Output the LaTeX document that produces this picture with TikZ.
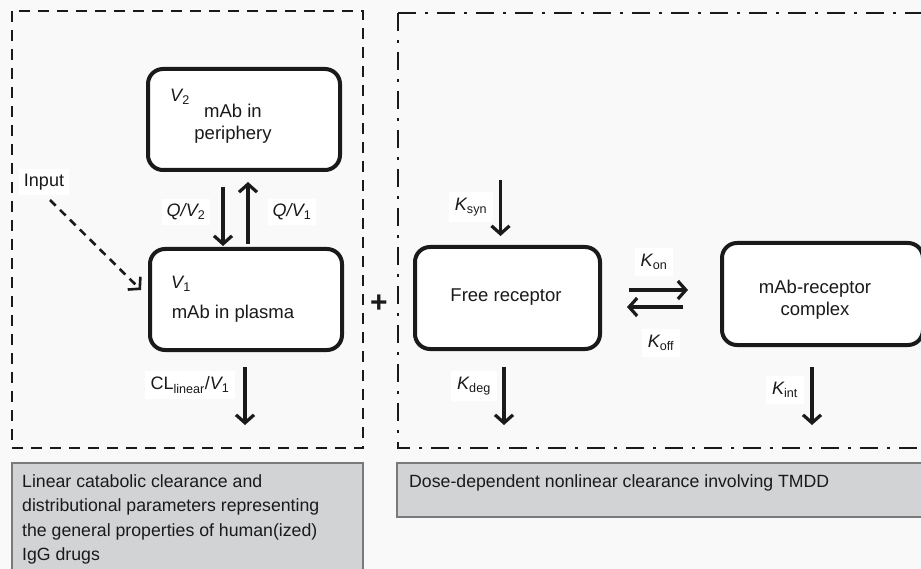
\documentclass[tikz,border=0pt]{standalone}
\usepackage{fontspec}
\setmainfont{Liberation Sans}
\usetikzlibrary{arrows.meta,calc}
\definecolor{bgc}{HTML}{F9F9F9}
\definecolor{capfill}{HTML}{D1D3D4}
\definecolor{capline}{HTML}{7A7A7A}
\definecolor{ink}{HTML}{1A1A1A}
\begin{document}
\begin{tikzpicture}[x=1pt,y=-1pt,
  comp/.style={draw=ink,line width=4pt,rounded corners=15pt,fill=white,inner sep=0pt},
  flow/.style={draw=ink,line width=3.2pt,-{Straight Barb[length=8pt,width=18pt]}},
  lbl/.style={fill=white,inner sep=3pt,text=ink,font=\fontsize{18}{20}\selectfont},
  txt/.style={fill=white,inner sep=3pt,align=center,text=ink,font=\fontsize{18.5}{22}\selectfont},
  capbox/.style={draw=capline,line width=1.2pt,fill=capfill},
  captxt/.style={anchor=north west,align=left,inner sep=0pt,text=ink,font=\fontsize{17.7}{24.5}\selectfont}]
\useasboundingbox (0,0) rectangle (921,569);
\fill[bgc] (0,0) rectangle (921,569);
% group frames
\draw[ink,line width=2.6pt,dash pattern=on 11pt off 8pt] (12,11) rectangle (363,448);
\draw[ink,line width=2.6pt,dash pattern=on 18pt off 9pt on 3pt off 9pt] (398,13) -- (398,448) -- (935,448);
\draw[ink,line width=2.6pt,dash pattern=on 18pt off 9pt on 3pt off 9pt] (398,13) -- (935,13);
% compartments
\node[comp,minimum width=192pt,minimum height=101pt] (v2) at (244,119.5) {};
\node[comp,minimum width=192pt,minimum height=101pt] (v1) at (246,299.5) {};
\node[comp,minimum width=185pt,minimum height=102pt] (fr) at (507.5,298) {};
\node[comp,minimum width=201pt,minimum height=102pt] (cx) at (822.5,294) {};
% texts in compartments
\node[txt] (v2t) at (233,124) {mAb in\\periphery};
\node[lbl,fill=none] (v2l) at (180,97) {\itshape V\textsubscript{\upshape 2}};
\node[lbl,fill=none] (v1l) at (181,284) {\itshape V\textsubscript{\upshape 1}};
\node[txt] (v1t) at (233,314) {mAb in plasma};
\node[txt] (frt) at (506,297) {Free receptor};
\node[txt] (cxt) at (815,300) {mAb-receptor\\complex};
% free ends
\coordinate (inS) at (50,200);
\coordinate (clE) at (245,425);
\coordinate (synS) at (500.5,180);
\coordinate (degE) at (504,425);
\coordinate (intE) at (812,425);
% connectors
\draw[flow] ($(v2.south)+(-21,15)$) -- ($(v1.north)+(-23,-1)$);
\draw[flow] ($(v1.north)+(2,-3)$) -- ($(v2.south)+(4,10)$);
\draw[flow,line width=2.6pt,dash pattern=on 8pt off 6pt] (inS) -- ($(v1.west)+(-7,-9.5)$);
\draw[flow] ($(v1.south)+(-1,15)$) -- (clE);
\draw[flow] (synS) -- ($(fr.north)+(-7,-9)$);
\draw[flow] ($(fr.south)+(-3.5,16)$) -- (degE);
\draw[flow] ($(fr.east)+(27,-8)$) -- ($(cx.west)+(-32,-4)$);
\draw[flow] ($(cx.west)+(-37,13)$) -- ($(fr.east)+(25,9)$);
\draw[flow] ($(cx.south)+(-10.5,20)$) -- (intE);
% rate labels
\node[lbl,inner sep=5pt] (inl) at (44,182) {Input};
\node[lbl,inner sep=5pt] (q2) at (186,212) {\itshape Q/V\textsubscript{\upshape 2}};
\node[lbl,inner sep=5pt] (q1) at (292,212) {\itshape Q/V\textsubscript{\upshape 1}};
\node[lbl,inner sep=6pt] (cl) at (190,385) {CL\textsubscript{linear}/{\itshape V}\textsubscript{1}};
\node[lbl,inner sep=6pt] (ks) at (471,207) {{\itshape K}\textsubscript{syn}};
\node[lbl,inner sep=6pt] (kon) at (654,262) {{\itshape K}\textsubscript{on}};
\node[lbl,inner sep=6pt] (koff) at (661,343) {{\itshape K}\textsubscript{off}};
\node[lbl,inner sep=6pt] (kd) at (474,386) {{\itshape K}\textsubscript{deg}};
\node[lbl,inner sep=6pt] (ki) at (785,390) {{\itshape K}\textsubscript{int}};
% plus
\node[text=ink,font=\bfseries\fontsize{30}{30}\selectfont,inner sep=0pt] (plus) at (379,304) {+};
% captions
\draw[capbox] (12,463) rectangle (363,570);
\draw[capbox] (397,463) rectangle (935,517);
\node[captxt] (capl) at (22,474) {Linear catabolic clearance and\\distributional parameters representing\\the general properties of human(ized)\\IgG drugs};
\node[captxt] (capr) at (409,474) {Dose-dependent nonlinear clearance involving TMDD};
\end{tikzpicture}
\end{document}
